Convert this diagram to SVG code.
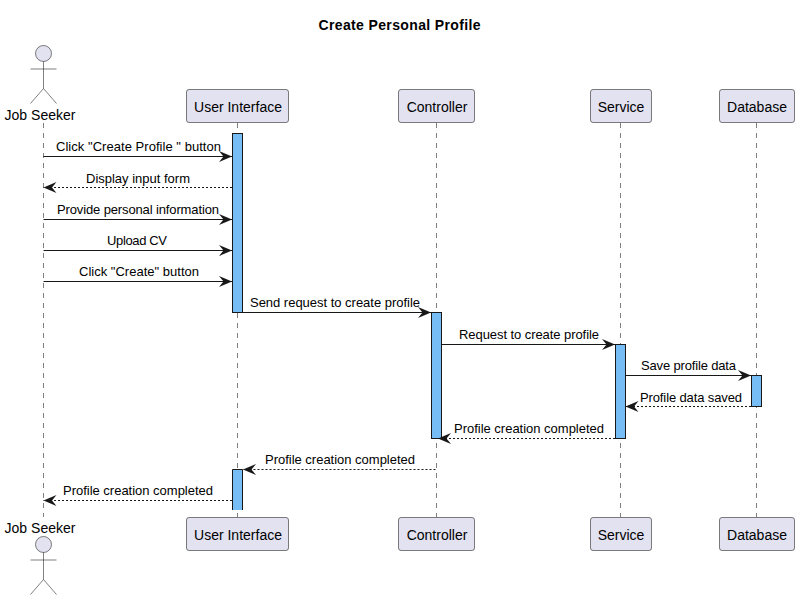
<svg xmlns="http://www.w3.org/2000/svg" width="799" height="600" viewBox="0 0 799 600">
<style>
text{font-family:"Liberation Sans",Arial,sans-serif;fill:#000}
.t{font-size:14px;font-weight:bold;text-anchor:middle}
.p{font-size:14px;text-anchor:middle}
.m{font-size:13px;text-anchor:middle}
.life{stroke:#181818;stroke-opacity:.55;stroke-width:1;stroke-dasharray:5 5;fill:none}
.box{fill:#E2E2F0;stroke:#181818;stroke-opacity:.55;stroke-width:1}
.act{fill:#76BDF5;stroke:#181818;stroke-width:1}
.sol{stroke:#181818;stroke-width:1;fill:none;marker-end:url(#a)}
.das{stroke:#181818;stroke-width:1;stroke-dasharray:2 2;fill:none;marker-end:url(#a)}
.ln{stroke:#181818;stroke-opacity:.55;stroke-width:1;fill:none}
</style>
<defs>
<marker id="a" markerUnits="userSpaceOnUse" markerWidth="14" markerHeight="12" refX="13" refY="6" orient="auto"><path d="M0 .5 L13 6 L0 11.500 L4.500 6 Z" fill="#181818"/></marker>
<g id="actor"><circle cx="0" cy="0" r="8" class="box"/><path class="ln" d="M0 8V35M-13 15.500H13M0 35L-13 50M0 35L13 50"/></g>
</defs>
<text class="t" x="399.500" y="30" textLength="162">Create Personal Profile</text>
<g id="lifelines">
<path class="life" d="M43.500 123V517"/><path class="life" d="M237.500 123V517"/><path class="life" d="M436.500 123V517"/><path class="life" d="M620.500 123V517"/><path class="life" d="M756.500 123V517"/>
</g>
<g id="job-seeker-top"><use href="#actor" x="43.500" y="53.500"/><text class="p" x="40" y="120">Job Seeker</text></g>
<g id="job-seeker-bottom"><use href="#actor" x="43.500" y="544.500"/><text class="p" x="40" y="533">Job Seeker</text></g>
<g id="ui-top"><rect class="box" x="186.500" y="89.500" width="102" height="33" rx="2.500"/><text class="p" x="238" y="112">User Interface</text></g>
<g id="controller-top"><rect class="box" x="398.500" y="89.500" width="76" height="33" rx="2.500"/><text class="p" x="437" y="112">Controller</text></g>
<g id="service-top"><rect class="box" x="590.500" y="89.500" width="61" height="33" rx="2.500"/><text class="p" x="621" y="112">Service</text></g>
<g id="database-top"><rect class="box" x="719.500" y="89.500" width="75" height="33" rx="2.500"/><text class="p" x="757" y="112">Database</text></g>
<g id="ui-bottom"><rect class="box" x="186.500" y="517.500" width="102" height="33" rx="2.500"/><text class="p" x="238" y="540">User Interface</text></g>
<g id="controller-bottom"><rect class="box" x="398.500" y="517.500" width="76" height="33" rx="2.500"/><text class="p" x="437" y="540">Controller</text></g>
<g id="service-bottom"><rect class="box" x="590.500" y="517.500" width="61" height="33" rx="2.500"/><text class="p" x="621" y="540">Service</text></g>
<g id="database-bottom"><rect class="box" x="719.500" y="517.500" width="75" height="33" rx="2.500"/><text class="p" x="757" y="540">Database</text></g>
<g id="activations">
<rect class="act" x="232.500" y="133.500" width="10" height="179"/>
<rect class="act" x="431.500" y="312.500" width="10" height="126"/>
<rect class="act" x="615.500" y="344.500" width="10" height="94"/>
<rect class="act" x="751.500" y="375.500" width="10" height="31"/>
<path class="act" d="M232.500 510V469.500H242.500V510"/>
</g>
<g id="connectors">
<path class="sol" d="M43.500 156.500H232"/>
<path class="das" d="M232 187.500H43.500"/>
<path class="sol" d="M43.500 219.500H232"/>
<path class="sol" d="M43.500 250.500H232"/>
<path class="sol" d="M43.500 281.500H232"/>
<path class="sol" d="M242.500 312.500H431"/>
<path class="sol" d="M441.500 344.500H615"/>
<path class="sol" d="M625.500 375.500H751"/>
<path class="das" d="M751 406.500H625.500"/>
<path class="das" d="M615 438.500H438"/>
<path class="das" d="M435.500 469.500H243"/>
<path class="das" d="M232 500.500H43.500"/>
</g>
<g id="labels">
<text class="m" x="138.500" y="151" textLength="165">Click "Create Profile " button</text>
<text class="m" x="138" y="183" textLength="104">Display input form</text>
<text class="m" x="138" y="214" textLength="162">Provide personal information</text>
<text class="m" x="137" y="245" textLength="60">Upload CV</text>
<text class="m" x="139" y="276" textLength="120">Click "Create" button</text>
<text class="m" x="335" y="307" textLength="170">Send request to create profile</text>
<text class="m" x="529" y="339" textLength="140">Request to create profile</text>
<text class="m" x="688.500" y="370" textLength="95">Save profile data</text>
<text class="m" x="691" y="402" textLength="102">Profile data saved</text>
<text class="m" x="529" y="433" textLength="150">Profile creation completed</text>
<text class="m" x="340" y="464" textLength="150">Profile creation completed</text>
<text class="m" x="138" y="495" textLength="150">Profile creation completed</text>
</g>
</svg>
